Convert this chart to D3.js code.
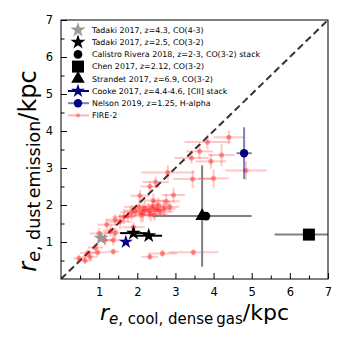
<!DOCTYPE html>
<html>
<head>
<meta charset="utf-8">
<script src="https://cdn.jsdelivr.net/npm/d3@7"></script>
<style>
  body { margin: 0; background: #fff; }
  text { font-family: "DejaVu Sans", sans-serif; }
</style>
</head>
<body>
<div id="chart"></div>
<script>
// FIRE-2 simulated galaxies: x = cool dense gas size, y = dust emission size
var fireX    = [4.40, 3.84, 3.63, 3.42, 4.21, 3.93, 4.85, 2.80, 3.45, 4.00, 2.48, 2.95, 2.76, 2.07, 2.42, 2.33,
                2.20, 2.30, 2.40, 2.50, 2.60, 2.70, 2.15, 2.05, 1.95, 2.35, 2.55, 2.85, 1.85, 1.75, 1.65, 1.42,
                1.55, 1.20, 1.30, 1.00, 1.42, 1.37, 1.15, 1.90, 0.70, 0.96, 0.47, 0.63, 0.76, 1.37, 2.33, 2.66,
                3.47, 0.90, 2.10, 2.45];
var fireY    = [3.83, 3.70, 3.45, 3.27, 3.35, 3.18, 2.93, 2.88, 2.70, 2.72, 2.62, 2.27, 2.10, 2.25, 2.12, 2.50,
                1.90, 1.85, 1.95, 1.88, 1.82, 1.90, 1.80, 1.95, 1.85, 1.75, 2.00, 1.95, 1.80, 1.70, 1.68, 1.60,
                1.55, 1.47, 1.30, 1.23, 1.24, 1.05, 1.05, 1.40, 0.70, 0.72, 0.56, 0.50, 0.60, 0.74, 0.60, 0.69,
                0.72, 0.85, 1.72, 1.72];
var fireXerr = [0.40, 0.60, 0.35, 0.45, 0.35, 0.40, 0.55, 0.70, 0.50, 0.40, 0.35, 0.30, 0.35, 0.25, 0.30, 0.25,
                0.40, 0.35, 0.30, 0.40, 0.35, 0.30, 0.30, 0.40, 0.30, 0.45, 0.30, 0.25, 0.30, 0.25, 0.30, 0.25,
                0.30, 0.25, 0.20, 0.25, 0.30, 0.25, 0.20, 0.30, 0.20, 0.25, 0.15, 0.20, 0.20, 0.15, 0.22, 0.38,
                0.65, 0.20, 0.30, 0.30];
var fireYerr = [0.18, 0.20, 0.20, 0.15, 0.30, 0.20, 0.25, 0.20, 0.25, 0.25, 0.15, 0.20, 0.20, 0.15, 0.20, 0.15,
                0.20, 0.20, 0.15, 0.20, 0.15, 0.20, 0.25, 0.20, 0.15, 0.20, 0.20, 0.15, 0.20, 0.15, 0.20, 0.15,
                0.20, 0.15, 0.15, 0.15, 0.15, 0.15, 0.15, 0.15, 0.10, 0.10, 0.10, 0.10, 0.10, 0.08, 0.08, 0.10,
                0.08, 0.10, 0.20, 0.15];

// observations
var obsNames  = ["Tadaki 2017, z=4.3, CO(4-3)", "Tadaki 2017, z=2.5, CO(3-2)", "Tadaki 2017, z=2.5, CO(3-2)",
                 "Calistro Rivera 2018, z=2-3, CO(3-2) stack", "Chen 2017, z=2.12, CO(3-2)",
                 "Strandet 2017, z=6.9, CO(3-2)", "Cooke 2017, z=4.4-4.6, [CII] stack", "Nelson 2019, z=1.25, H-alpha"];
var obsX      = [1.05, 1.90, 2.30, 3.80, 6.50, 3.70, 1.70, 4.80];
var obsY      = [1.10, 1.24, 1.17, 1.70, 1.20, 1.70, 1.00, 3.40];
var obsXerr   = [0, 0.35, 0.35, 0, 0.90, 1.30, 0, 0.20];
var obsYerr   = [0, 0, 0, 0, 0, 1.37, 0, 0.70];

var legendLabels = ["Tadaki 2017, z=4.3, CO(4-3)", "Tadaki 2017, z=2.5, CO(3-2)",
                    "Calistro Rivera 2018, z=2-3, CO(3-2) stack", "Chen 2017, z=2.12, CO(3-2)",
                    "Strandet 2017, z=6.9, CO(3-2)", "Cooke 2017, z=4.4-4.6, [CII] stack",
                    "Nelson 2019, z=1.25, H-alpha", "FIRE-2"];
var majorTicks = [1, 2, 3, 4, 5, 6, 7];

// styles per observation
var obsStyle = [
  {sym: d3.symbolStar,     size: 70,  fill: "#999999", err: "#999999"},
  {sym: d3.symbolStar,     size: 70,  fill: "#000000", err: "#000000"},
  {sym: d3.symbolStar,     size: 70,  fill: "#000000", err: "#000000"},
  {sym: d3.symbolCircle,   size: 60,  fill: "#000000", err: "#808080"},
  {sym: d3.symbolSquare,   size: 144, fill: "#000000", err: "#808080"},
  {sym: d3.symbolTriangle, size: 80,  fill: "#000000", err: "#808080"},
  {sym: d3.symbolStar,     size: 60,  fill: "#000080", err: "#000080"},
  {sym: d3.symbolCircle,   size: 55,  fill: "#000080", err: "rgba(0,0,128,0.5)"}
];

var margin = {top: 20, right: 19, bottom: 68, left: 61},
    width = 347 - margin.left - margin.right,
    height = 347 - margin.top - margin.bottom;

var svg = d3.select("#chart").append("svg")
  .attr("width", 347).attr("height", 347);

var g = svg.append("g")
  .attr("transform", "translate(" + margin.left + "," + margin.top + ")");

var x = d3.scaleLinear().domain([0, 7]).range([0, width]);
var y = d3.scaleLinear().domain([0, 7]).range([height, 0]);

g.append("clipPath").attr("id", "clip")
  .append("rect").attr("width", width).attr("height", height);

var plot = g.append("g").attr("clip-path", "url(#clip)");

// one-to-one line
plot.append("line")
  .attr("x1", x(0)).attr("y1", y(0)).attr("x2", x(7)).attr("y2", y(7))
  .attr("stroke", "#333").attr("stroke-width", 2).attr("stroke-dasharray", "7,4");

// FIRE-2 error bars and points
var fire = fireX.map(function(v, i) {
  return {x: v, y: fireY[i], xe: fireXerr[i], ye: fireYerr[i]};
});
var fg = plot.append("g");
fire.forEach(function(d) {
  fg.append("line")
    .attr("x1", x(d.x - d.xe)).attr("x2", x(d.x + d.xe))
    .attr("y1", y(d.y)).attr("y2", y(d.y))
    .attr("stroke", "red").attr("stroke-opacity", 0.22).attr("stroke-width", 2);
  fg.append("line")
    .attr("x1", x(d.x)).attr("x2", x(d.x))
    .attr("y1", y(d.y - d.ye)).attr("y2", y(d.y + d.ye))
    .attr("stroke", "red").attr("stroke-opacity", 0.22).attr("stroke-width", 2);
});
fg.selectAll("circle").data(fire).enter().append("circle")
  .attr("cx", function(d) { return x(d.x); })
  .attr("cy", function(d) { return y(d.y); })
  .attr("r", 2.6)
  .attr("fill", "red").attr("fill-opacity", 0.35);

// observations
var obs = obsX.map(function(v, i) {
  return {x: v, y: obsY[i], xe: obsXerr[i], ye: obsYerr[i], s: obsStyle[i]};
});
var og = plot.append("g");
obs.forEach(function(d) {
  if (d.xe > 0) og.append("line")
    .attr("x1", x(d.x - d.xe)).attr("x2", x(d.x + d.xe))
    .attr("y1", y(d.y)).attr("y2", y(d.y))
    .attr("stroke", d.s.err).attr("stroke-width", 2);
  if (d.ye > 0) og.append("line")
    .attr("x1", x(d.x)).attr("x2", x(d.x))
    .attr("y1", y(d.y - d.ye)).attr("y2", y(d.y + d.ye))
    .attr("stroke", d.s.err).attr("stroke-width", 2);
});
og.selectAll("path").data(obs).enter().append("path")
  .attr("transform", function(d) { return "translate(" + x(d.x) + "," + y(d.y) + ")"; })
  .attr("d", function(d) { return d3.symbol().type(d.s.sym).size(d.s.size)(); })
  .attr("fill", function(d) { return d.s.fill; });

// axes, ticks inward
var minorTicks = d3.range(0.5, 7, 0.5).filter(function(v) { return v % 1 !== 0; });
function styleAxis(sel) {
  sel.select(".domain").remove();
  sel.selectAll("text").attr("font-size", "11.5px").attr("fill", "#000")
    .attr("font-family", "DejaVu Sans");
  sel.selectAll("line").attr("stroke", "#000");
}
g.append("g").attr("transform", "translate(0," + height + ")")
  .call(d3.axisBottom(x).tickValues(majorTicks).tickSize(-6).tickPadding(9).tickFormat(d3.format("d")))
  .call(styleAxis);
g.append("g").attr("transform", "translate(0," + height + ")")
  .call(d3.axisBottom(x).tickValues(minorTicks).tickSize(-3.5).tickFormat(""))
  .call(styleAxis);
g.append("g")
  .call(d3.axisLeft(y).tickValues(majorTicks).tickSize(-6).tickPadding(8).tickFormat(d3.format("d")))
  .call(styleAxis);
g.append("g")
  .call(d3.axisLeft(y).tickValues(minorTicks).tickSize(-3.5).tickFormat(""))
  .call(styleAxis);

g.append("rect").attr("width", width).attr("height", height)
  .attr("fill", "none").attr("stroke", "#000").attr("stroke-width", 1);

// legend
var leg = g.append("g").attr("transform", "translate(17,10)");
var legStyle = [obsStyle[0], obsStyle[1], obsStyle[3], obsStyle[4], obsStyle[5], obsStyle[6], obsStyle[7],
                {sym: d3.symbolCircle, size: 14, fill: "rgba(255,0,0,0.35)", err: "rgba(255,0,0,0.3)"}];
var legLine = [false, false, false, false, false, true, true, true];
legendLabels.forEach(function(lab, i) {
  var row = leg.append("g").attr("transform", "translate(0," + (i * 12.2) + ")");
  if (legLine[i]) row.append("line")
    .attr("x1", -10).attr("x2", 11).attr("y1", 0).attr("y2", 0)
    .attr("stroke", legStyle[i].err).attr("stroke-width", 2);
  row.append("path")
    .attr("d", d3.symbol().type(legStyle[i].sym).size(legStyle[i].size)())
    .attr("fill", legStyle[i].fill);
  row.append("text").attr("x", 14).attr("y", 0).attr("dy", "0.35em")
    .attr("font-size", "7.9px").attr("fill", "#000").text(lab);
});

// axis labels
var xl = svg.append("text")
  .attr("x", margin.left + width / 2).attr("y", 320)
  .attr("text-anchor", "middle").attr("font-size", "22px").attr("fill", "#000");
xl.append("tspan").attr("font-style", "italic").text("r");
xl.append("tspan").attr("font-size", "15px").attr("dy", 4).attr("font-style", "italic").text("e");
xl.append("tspan").attr("font-size", "15px").text(", cool, dense\u2009gas");
xl.append("tspan").attr("dy", -4).text("/kpc");

var yl = svg.append("text")
  .attr("transform", "translate(36,171) rotate(-90)")
  .attr("text-anchor", "middle").attr("font-size", "24px").attr("fill", "#000");
yl.append("tspan").attr("font-style", "italic").text("r");
yl.append("tspan").attr("font-size", "17.5px").attr("dy", 4).attr("font-style", "italic").text("e");
yl.append("tspan").attr("font-size", "17.5px").text(", dust\u2009emission");
yl.append("tspan").attr("dy", -4).text("/kpc");
</script>
</body>
</html>
